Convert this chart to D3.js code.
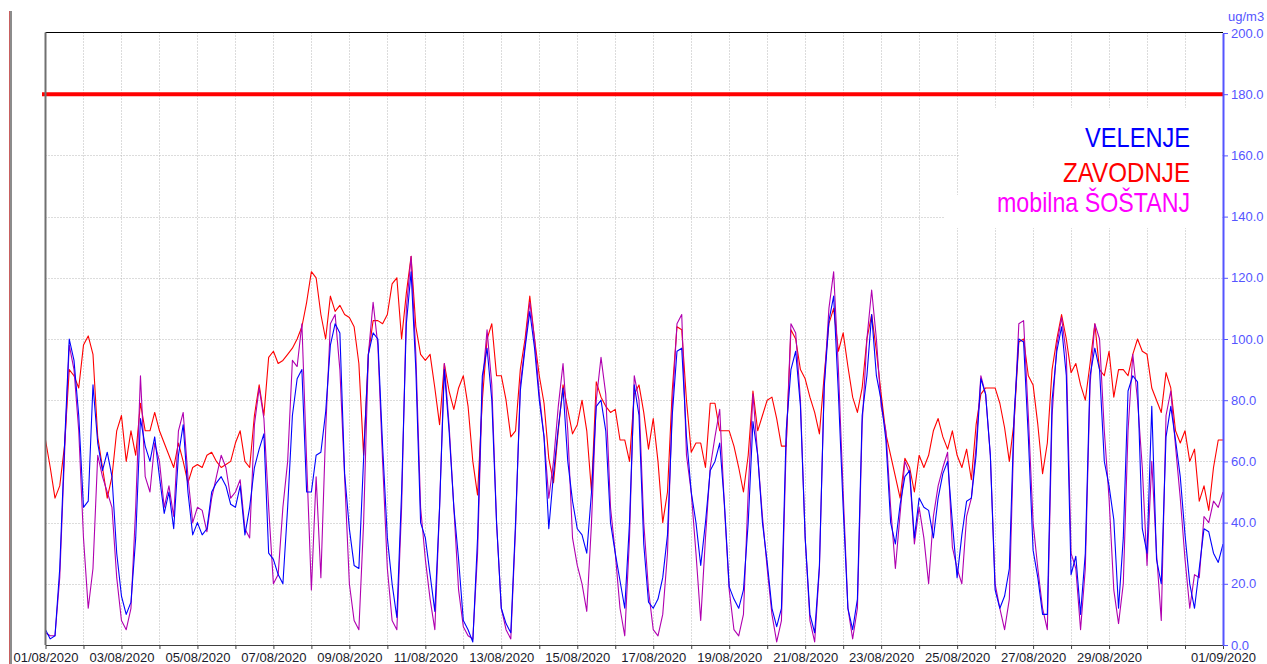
<!DOCTYPE html>
<html>
<head>
<meta charset="utf-8">
<script src="https://cdn.jsdelivr.net/npm/d3@7"></script>
<style>
  html, body { margin: 0; padding: 0; background: #fff; }
  svg { display: block; font-family: "Liberation Sans", Arial, sans-serif; }
</style>
</head>
<body>
<svg id="chart" width="1267" height="664"></svg>
<script>
// values every 3 hours from 01/08/2020 00:00, ug/m3
const stepHours = 3;

const velenje = [
  5, 2, 3, 25, 65, 100, 93, 75,
  45, 47, 85, 66, 57, 63, 55, 30,
  16, 10, 14, 35, 74, 65, 60, 68,
  55, 43, 50, 38, 62, 72, 50, 36,
  40, 36, 38, 50, 53, 55, 52, 46,
  45, 52, 36, 45, 58, 64, 69, 30,
  28, 23, 20, 45, 75, 87, 90, 50,
  50, 62, 63, 76, 98, 105, 102, 56,
  38, 26, 25, 61, 95, 102, 100, 65,
  35, 20, 9, 50, 105, 122, 90, 40,
  35, 23, 11, 45, 90, 70, 45, 28,
  8, 5, 1, 35, 88, 97, 80, 40,
  12, 7, 4, 40, 83, 97, 109, 97,
  80, 68, 38, 56, 71, 84, 60, 47,
  38, 36, 30, 50, 78, 80, 70, 40,
  30, 21, 12, 40, 85, 75, 33, 14,
  12, 15, 22, 36, 75, 96, 97, 68,
  50, 40, 26, 40, 57, 60, 66, 46,
  19, 15, 12, 18, 40, 73, 62, 40,
  27, 12, 6, 12, 70, 90, 96, 78,
  35, 10, 4, 26, 84, 106, 114, 82,
  45, 12, 5, 15, 75, 88, 108, 88,
  80, 67, 40, 33, 46, 55, 57, 35,
  48, 45, 44, 35, 48, 56, 60, 40,
  22, 36, 47, 48, 62, 87, 82, 62,
  18, 12, 16, 25, 75, 100, 99, 68,
  31, 22, 10, 10, 80, 96, 104, 88,
  23, 29, 10, 30, 88, 97, 90, 60,
  52, 41, 12, 35, 83, 88, 86, 38,
  30, 78, 28, 20, 68, 78, 67, 55,
  36, 20, 12, 25, 38, 37, 30, 27,
  33
];

const zavodnje = [
  67, 58, 48, 52, 65, 90, 88, 84,
  98, 101, 95, 68, 58, 48, 55, 70,
  75, 60, 70, 62, 79, 70, 70, 76,
  70, 66, 62, 58, 66, 60, 53, 58,
  59, 58, 62, 63, 60, 58, 59, 60,
  66, 70, 60, 58, 75, 85, 75, 94,
  96, 92, 93, 95, 97, 100, 104, 112,
  122, 120, 108, 100, 114, 109, 111, 108,
  107, 104, 92, 62, 95, 106, 106, 105,
  108, 118, 120, 100, 115, 127, 104, 95,
  93, 95, 84, 72, 92, 83, 77, 84,
  88, 78, 60, 49, 80, 100, 105, 88,
  88, 80, 68, 70, 90, 100, 114, 100,
  88, 79, 61, 53, 70, 85, 77, 69,
  72, 80, 70, 50, 86, 81, 78, 76,
  77, 67, 67, 60, 82, 85, 76, 64,
  74, 60, 40, 50, 83, 104, 103, 80,
  63, 66, 66, 58, 79, 79, 70, 70,
  70, 65, 58, 50, 62, 83, 70, 75,
  80, 81, 74, 65, 65, 103, 100, 90,
  87, 81, 76, 69, 88, 105, 110, 96,
  102, 91, 81, 76, 84, 100, 108, 96,
  82, 69, 62, 55, 48, 61, 58, 50,
  62, 58, 62, 70, 74, 68, 64, 70,
  62, 58, 64, 54, 72, 82, 84, 84,
  84, 79, 71, 60, 73, 99, 100, 88,
  85, 72, 56, 66, 90, 100, 108, 100,
  89, 92, 85, 80, 92, 105, 90, 88,
  96, 81, 90, 90, 88, 95, 100, 96,
  95, 84, 80, 76, 89, 84, 70, 66,
  70, 60, 64, 47, 52, 44, 58, 67,
  67
];

const sostanj = [
  4, 3, 3, 22, 62, 98, 90, 70,
  35, 12, 25, 62, 55, 50, 45, 22,
  8, 5, 12, 45, 88, 55, 50, 66,
  60, 45, 52, 42, 70, 76, 55, 40,
  45, 44, 37, 48, 55, 62, 58, 48,
  50, 54, 38, 35, 72, 84, 74, 45,
  20, 23, 45, 60, 93, 91, 105, 60,
  18, 55, 22, 70, 105, 108, 90, 55,
  20, 8, 5, 40, 95, 112, 98, 60,
  25, 8, 5, 45, 110, 127, 95, 45,
  28, 15, 5, 45, 92, 72, 45, 18,
  6, 3, 2, 30, 85, 103, 85, 40,
  12, 5, 2, 38, 85, 98, 112, 100,
  82, 68, 48, 60, 78, 92, 70, 35,
  26, 20, 11, 40, 80, 94, 82, 45,
  30, 12, 3, 35, 88, 80, 40, 18,
  5, 3, 10, 30, 78, 105, 108, 62,
  50, 30, 8, 35, 58, 68, 77, 45,
  18, 5, 3, 10, 50, 82, 62, 42,
  25, 10, 1, 8, 65, 105, 102, 80,
  35, 8, 1, 25, 85, 110, 122, 90,
  50, 12, 2, 12, 72, 100, 116, 100,
  78, 70, 45, 25, 43, 60, 56, 33,
  45, 35, 20, 42, 52, 58, 63, 32,
  25, 20, 42, 48, 65, 88, 82, 62,
  20, 12, 5, 15, 72, 105, 106, 75,
  40, 25, 12, 5, 75, 98, 107, 95,
  30, 25, 5, 25, 85, 105, 100, 70,
  48, 18, 7, 20, 70, 95, 80, 58,
  26, 60, 30, 8, 75, 83, 65, 48,
  28, 12, 23, 22, 42, 40, 47, 45,
  50
];

const seriesNames = ['VELENJE', 'ZAVODNJE', 'mobilna ŠOŠTANJ'];
const yTicks = [0, 20, 40, 60, 80, 100, 120, 140, 160, 180, 200];
const xLabels = ['01/08/2020', '03/08/2020', '05/08/2020', '07/08/2020', '09/08/2020',
  '11/08/2020', '13/08/2020', '15/08/2020', '17/08/2020', '19/08/2020', '21/08/2020',
  '23/08/2020', '25/08/2020', '27/08/2020', '29/08/2020', '01/09/2020'];
const limitValue = 180;
const unitLabel = 'ug/m3';

const parseDay = d3.timeParse('%d/%m/%Y');
const fmtDay = d3.timeFormat('%d/%m/%Y');
const start = parseDay(xLabels[0]);
const end = parseDay(xLabels[xLabels.length - 1]);

const svg = d3.select('#chart');
const plot = { left: 45.5, right: 1223, top: 32.5, bottom: 645 };

const x = d3.scaleTime().domain([start, end]).range([plot.left, plot.right]);
const y = d3.scaleLinear().domain([0, 200]).range([plot.bottom, 33]);

// odd grey bar at the far left of the window
svg.append('rect').attr('x', 9).attr('y', 11).attr('width', 1).attr('height', 653).attr('fill', '#c86060');
svg.append('rect').attr('x', 10).attr('y', 11).attr('width', 2).attr('height', 653).attr('fill', '#8c8c8c');

// grid
const days = d3.timeDay.range(start, d3.timeDay.offset(end, 1));
svg.append('g').selectAll('line')
  .data(days.slice(1, -1))
  .enter().append('line')
  .attr('x1', d => Math.round(x(d)) + 0.5).attr('x2', d => Math.round(x(d)) + 0.5)
  .attr('y1', plot.top).attr('y2', plot.bottom)
  .attr('stroke', '#b8b8b8').attr('stroke-dasharray', '1,2');

svg.append('g').selectAll('line')
  .data(yTicks.slice(1, -1))
  .enter().append('line')
  .attr('x1', plot.left).attr('x2', plot.right)
  .attr('y1', d => Math.round(y(d)) + 0.5).attr('y2', d => Math.round(y(d)) + 0.5)
  .attr('stroke', '#b8b8b8').attr('stroke-dasharray', '1,2');

// white box behind the legend hides the grid there
svg.append('rect').attr('x', 960).attr('y', 108).attr('width', 262).attr('height', 88).attr('fill', '#fff');
svg.append('rect').attr('x', 945).attr('y', 195).attr('width', 277).attr('height', 33).attr('fill', '#fff');

// series
const makePoints = arr => arr.map((v, i) => ({ date: d3.timeHour.offset(start, i * stepHours), value: v }));
const line = d3.line()
  .defined(d => d.value != null)
  .x(d => x(d.date))
  .y(d => y(d.value));

const series = [
  { name: seriesNames[1], data: zavodnje, color: '#ff0000' },
  { name: seriesNames[2], data: sostanj, color: '#b000b0' },
  { name: seriesNames[0], data: velenje, color: '#0000ff' }
];

svg.append('clipPath').attr('id', 'plotClip')
  .append('rect').attr('x', plot.left).attr('y', plot.top)
  .attr('width', plot.right - plot.left).attr('height', plot.bottom - plot.top);

svg.append('g').attr('clip-path', 'url(#plotClip)')
  .selectAll('path')
  .data(series)
  .enter().append('path')
  .attr('d', s => line(makePoints(s.data)))
  .attr('fill', 'none')
  .attr('stroke', s => s.color)
  .attr('stroke-width', 1.1)
  .attr('stroke-linejoin', 'round');

// limit line
svg.append('line')
  .attr('x1', 42).attr('x2', plot.right)
  .attr('y1', y(limitValue)).attr('y2', y(limitValue))
  .attr('stroke', '#ff0000').attr('stroke-width', 4);

// frame
svg.append('line').attr('x1', plot.left).attr('x2', plot.right).attr('y1', plot.top).attr('y2', plot.top).attr('stroke', '#000');
svg.append('line').attr('x1', plot.left).attr('x2', plot.left).attr('y1', plot.top).attr('y2', plot.bottom)
  .attr('stroke', '#707070').attr('stroke-width', 2);

// x axis
const labelSet = new Set(xLabels);
const xAxis = svg.append('g')
  .attr('transform', `translate(0,${plot.bottom})`)
  .call(d3.axisBottom(x)
    .tickValues(days)
    .tickSize(4)
    .tickPadding(4)
    .tickSizeOuter(0)
    .tickFormat(d => labelSet.has(fmtDay(d)) ? fmtDay(d) : ''));
xAxis.select('.domain').attr('stroke', '#404040');
xAxis.selectAll('.tick line').attr('stroke', '#404040');
xAxis.selectAll('text').attr('font-size', 13).attr('font-family', '"Liberation Sans", Arial, sans-serif').attr('fill', '#1a1a2a');

// y axis on the right
const axisBlue = '#5555ff';
const yAxis = svg.append('g')
  .attr('transform', `translate(${plot.right},0)`)
  .call(d3.axisRight(y)
    .tickValues(yTicks)
    .tickSize(5)
    .tickPadding(3)
    .tickSizeOuter(0)
    .tickFormat(d3.format('.1f')));
yAxis.select('.domain').attr('stroke', axisBlue).attr('stroke-width', 2);
yAxis.selectAll('.tick line').attr('stroke', axisBlue);
yAxis.selectAll('text').attr('font-size', 13).attr('font-family', '"Liberation Sans", Arial, sans-serif').attr('fill', axisBlue);

svg.append('text')
  .attr('x', 1228).attr('y', 21)
  .attr('font-size', 13).attr('fill', axisBlue)
  .text(unitLabel);

// legend
const legendItems = [
  { name: seriesNames[0], color: '#0000ff', y: 147, w: 105 },
  { name: seriesNames[1], color: '#ff0000', y: 182, w: 127 },
  { name: seriesNames[2], color: '#ff00ff', y: 212, w: 193 }
];
svg.append('g').selectAll('text')
  .data(legendItems)
  .enter().append('text')
  .attr('x', 1190)
  .attr('y', d => d.y)
  .attr('text-anchor', 'end')
  .attr('font-size', 28)
  .attr('textLength', d => d.w)
  .attr('lengthAdjust', 'spacingAndGlyphs')
  .attr('fill', d => d.color)
  .text(d => d.name);
</script>
</body>
</html>
